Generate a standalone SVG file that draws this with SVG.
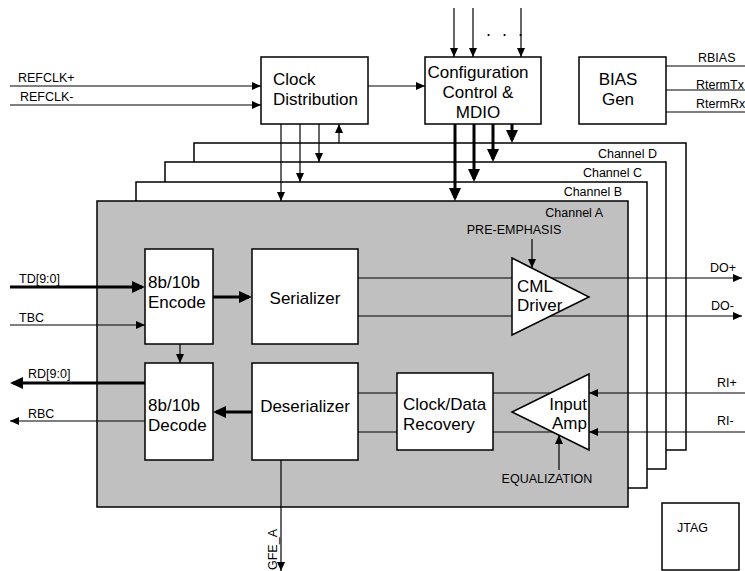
<svg xmlns="http://www.w3.org/2000/svg" width="745" height="571" viewBox="0 0 745 571">
<style>
text{font-family:"Liberation Sans",Arial,sans-serif;fill:#000}
.big{font-size:17px}
.sm{font-size:12.5px}
.box{fill:#fff;stroke:#000;stroke-width:1.5}
.ch{fill:#fff;stroke:#000;stroke-width:1.5}
.chA{fill:#c0c0c0;stroke:#000;stroke-width:1.5}
.w{fill:none;stroke:#000;stroke-width:1.2}
.wt{fill:none;stroke:#000;stroke-width:1.2;marker-end:url(#a)}
.wk{fill:none;stroke:#000;stroke-width:3;marker-end:url(#A)}
</style>
<defs>
<marker id="a" markerWidth="9" markerHeight="8" refX="9" refY="4" orient="auto" markerUnits="userSpaceOnUse"><path d="M0,0 L9,4 L0,8 z" fill="#000"/></marker>
<marker id="A" markerWidth="13" markerHeight="12" refX="10" refY="6" orient="auto" markerUnits="userSpaceOnUse"><path d="M0,0 L13,6 L0,12 z" fill="#000"/></marker>
</defs>

<g id="channel-d"><rect class="ch" x="194" y="143" width="492" height="307"/><text class="sm" x="657" y="158" text-anchor="end">Channel D</text></g>
<g id="channel-c"><rect class="ch" x="165" y="162" width="501" height="307"/><text class="sm" x="642" y="177" text-anchor="end">Channel C</text></g>
<g id="channel-b"><rect class="ch" x="136" y="182" width="511" height="306"/><text class="sm" x="622" y="196" text-anchor="end">Channel B</text></g>
<g id="channel-a"><rect class="chA" x="97" y="201" width="531" height="306"/><text class="sm" x="603" y="217" text-anchor="end">Channel A</text></g>

<g id="connectors">
<line class="wt" x1="10" y1="86" x2="261" y2="86"/>
<line class="wt" x1="10" y1="105" x2="261" y2="105"/>
<line class="wt" x1="368" y1="86" x2="425" y2="86"/>
<line class="wt" x1="454" y1="8" x2="454" y2="57"/>
<line class="wt" x1="473" y1="8" x2="473" y2="57"/>
<line class="wt" x1="521" y1="8" x2="521" y2="57"/>
<line class="wt" x1="281" y1="124" x2="281" y2="201"/>
<line class="wt" x1="300" y1="124" x2="300" y2="182"/>
<line class="wt" x1="319" y1="124" x2="319" y2="162"/>
<line class="wt" x1="339" y1="143" x2="339" y2="124"/>
<line class="wk" x1="455" y1="124" x2="455" y2="198"/>
<line class="wk" x1="474" y1="124" x2="474" y2="179"/>
<line class="wk" x1="493" y1="124" x2="493" y2="159"/>
<line class="wk" x1="512" y1="124" x2="512" y2="140"/>
<line class="w" x1="666" y1="66" x2="745" y2="66"/>
<line class="w" x1="666" y1="90" x2="745" y2="90"/>
<line class="w" x1="666" y1="112" x2="745" y2="112"/>
<line class="wk" x1="10" y1="287" x2="142" y2="287"/>
<line class="wt" x1="10" y1="325" x2="145" y2="325"/>
<line class="wk" x1="213" y1="297" x2="249" y2="297"/>
<line class="wt" x1="180" y1="344" x2="180" y2="363"/>
<line class="wk" x1="145" y1="383" x2="13" y2="383"/>
<line class="wt" x1="145" y1="421" x2="10" y2="421"/>
<line class="wk" x1="252" y1="412" x2="216" y2="412"/>
<line class="wt" x1="358" y1="278" x2="742" y2="278"/>
<line class="wt" x1="358" y1="316" x2="742" y2="316"/>
<line class="w" x1="358" y1="393" x2="560" y2="393"/>
<line class="w" x1="358" y1="432" x2="560" y2="432"/>
<line class="wt" x1="745" y1="393" x2="589" y2="393"/>
<line class="wt" x1="745" y1="432" x2="589" y2="432"/>
<line class="wt" x1="532" y1="239" x2="532" y2="268"/>
<line class="wt" x1="559" y1="470" x2="559" y2="435"/>
<line class="wt" x1="281" y1="460" x2="281" y2="571"/>
</g>

<g id="clock-distribution"><rect class="box" x="261" y="57" width="107" height="67"/><text class="big" x="273" y="85">Clock</text><text class="big" x="273" y="105">Distribution</text></g>
<g id="configuration"><rect class="box" x="425" y="57" width="116" height="67"/><text class="big" x="478" y="78" text-anchor="middle">Configuration</text><text class="big" x="478" y="98" text-anchor="middle">Control &amp;</text><text class="big" x="478" y="118" text-anchor="middle">MDIO</text></g>
<g id="bias-gen"><rect class="box" x="579" y="57" width="87" height="67"/><text class="big" x="618" y="85" text-anchor="middle">BIAS</text><text class="big" x="618" y="105" text-anchor="middle">Gen</text></g>
<g id="encode"><rect class="box" x="145" y="249" width="68" height="95"/><text class="big" x="148" y="288">8b/10b</text><text class="big" x="148" y="308">Encode</text></g>
<g id="serializer"><rect class="box" x="252" y="249" width="106" height="95"/><text class="big" x="305" y="304" text-anchor="middle">Serializer</text></g>
<g id="decode"><rect class="box" x="145" y="363" width="68" height="97"/><text class="big" x="148" y="411">8b/10b</text><text class="big" x="148" y="431">Decode</text></g>
<g id="deserializer"><rect class="box" x="252" y="363" width="106" height="97"/><text class="big" x="305" y="412" text-anchor="middle">Deserializer</text></g>
<g id="cdr"><rect class="box" x="397" y="373" width="96" height="77"/><text class="big" x="403" y="410">Clock/Data</text><text class="big" x="403" y="430">Recovery</text></g>
<g id="cml-driver"><path class="box" d="M512,258 L589,297 L512,335 Z"/><text class="big" x="517" y="292">CML</text><text class="big" x="517" y="311">Driver</text></g>
<g id="input-amp"><path class="box" d="M589,374 L512,412 L589,450 Z"/><text class="big" x="587" y="410" text-anchor="end">Input</text><text class="big" x="587" y="429" text-anchor="end">Amp</text></g>
<g id="jtag"><rect class="box" x="662" y="503" width="77" height="67"/><text class="sm" x="677" y="532">JTAG</text></g>

<g id="labels">
<text class="sm" x="18" y="82">REFCLK+</text>
<text class="sm" x="20" y="101">REFCLK-</text>
<text x="486" y="36" font-size="18" letter-spacing="3">. . .</text>
<text class="sm" x="698" y="62">RBIAS</text>
<text class="sm" x="696" y="89">RtermTx</text>
<text class="sm" x="696" y="108">RtermRx</text>
<text class="sm" x="19" y="283">TD[9:0]</text>
<text class="sm" x="19" y="322">TBC</text>
<text class="sm" x="28" y="378">RD[9:0]</text>
<text class="sm" x="28" y="418">RBC</text>
<text class="sm" x="710" y="272">DO+</text>
<text class="sm" x="711" y="310">DO-</text>
<text class="sm" x="717" y="387">RI+</text>
<text class="sm" x="717" y="425">RI-</text>
<text class="sm" x="514" y="234" text-anchor="middle">PRE-EMPHASIS</text>
<text class="sm" x="547" y="483" text-anchor="middle">EQUALIZATION</text>
<text class="sm" transform="translate(277,570) rotate(-90)">GFE_A</text>
</g>
</svg>
